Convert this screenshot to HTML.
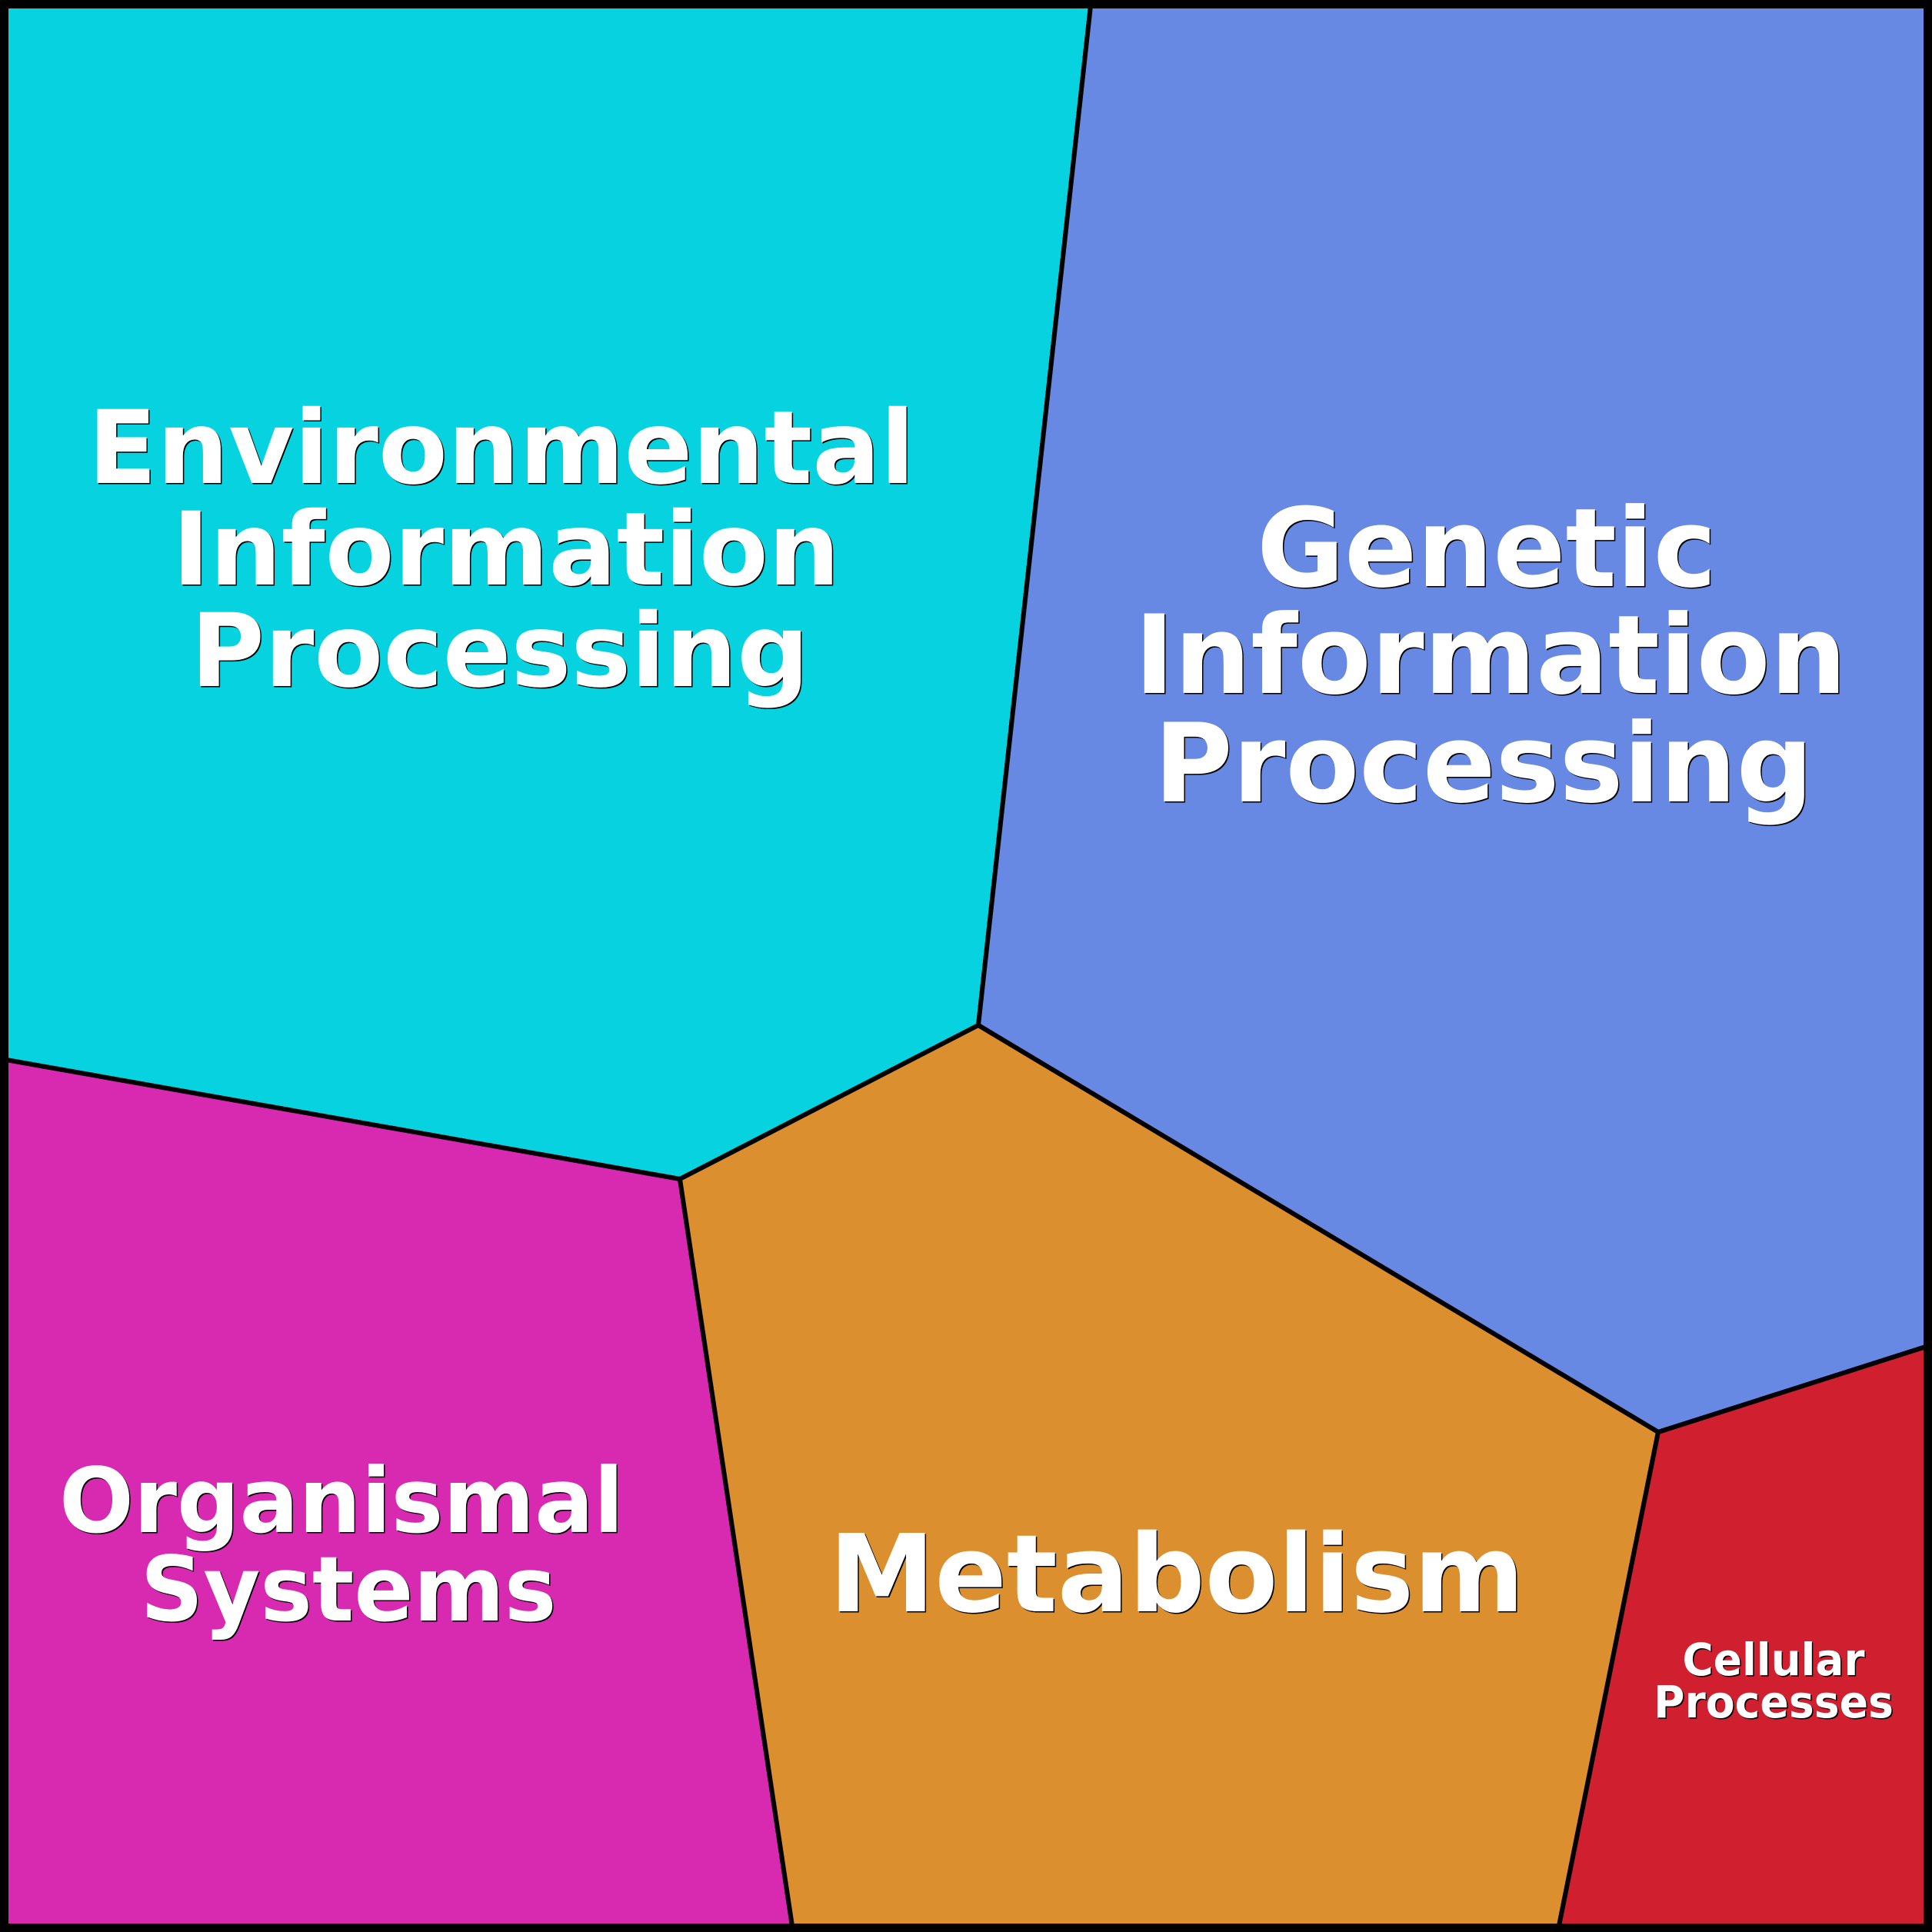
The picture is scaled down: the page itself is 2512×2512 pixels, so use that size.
<!DOCTYPE html>
<html><head><meta charset="utf-8"><style>html,body{margin:0;padding:0;background:#fff}svg{display:block}</style></head>
<body>
<svg width="2512" height="2512" viewBox="0 0 2512 2512" xmlns="http://www.w3.org/2000/svg">
<g stroke="#000" stroke-width="6" stroke-linejoin="round">
<polygon points="8,8 1418,8 1272,1333 884,1533 8,1378" fill="#06D3DF"/>
<polygon points="1418,8 2504,8 2504,1751 2156,1862 1272,1333" fill="#6789E4"/>
<polygon points="8,1378 884,1533 1030,2504 8,2504" fill="#D829B1"/>
<polygon points="884,1533 1272,1333 2156,1862 2027,2504 1030,2504" fill="#DB8F2E"/>
<polygon points="2156,1862 2504,1751 2504,2504 2027,2504" fill="#D0202F"/>
</g>
<rect x="5" y="5" width="2502" height="2502" fill="none" stroke="#000" stroke-width="10"/>
<defs>
<g id="t" font-family="'DejaVu Sans','Liberation Sans',sans-serif" font-weight="bold" text-anchor="middle">
<text x="652" y="628" font-size="132" textLength="1075" lengthAdjust="spacingAndGlyphs">Environmental</text>
<text x="658" y="760" font-size="132" textLength="868" lengthAdjust="spacingAndGlyphs">Information</text>
<text x="650" y="892" font-size="132" textLength="804" lengthAdjust="spacingAndGlyphs">Processing</text>
<text x="1933" y="762" font-size="142" textLength="598" lengthAdjust="spacingAndGlyphs">Genetic</text>
<text x="1938" y="901" font-size="142" textLength="926" lengthAdjust="spacingAndGlyphs">Information</text>
<text x="1929" y="1042" font-size="142" textLength="857" lengthAdjust="spacingAndGlyphs">Processing</text>
<text x="444" y="1992" font-size="117" textLength="734" lengthAdjust="spacingAndGlyphs">Organismal</text>
<text x="453" y="2107" font-size="117" textLength="541" lengthAdjust="spacingAndGlyphs">Systems</text>
<text x="1530" y="2095" font-size="140" textLength="904" lengthAdjust="spacingAndGlyphs">Metabolism</text>
<text x="2306" y="2178" font-size="58" textLength="237" lengthAdjust="spacingAndGlyphs">Cellular</text>
<text x="2306" y="2233" font-size="58" textLength="312" lengthAdjust="spacingAndGlyphs">Processes</text>
</g>
</defs>
<use href="#t" x="1.5" y="1.5" fill="#000"/>
<use href="#t" fill="#fff"/>
</svg>
</body></html>
